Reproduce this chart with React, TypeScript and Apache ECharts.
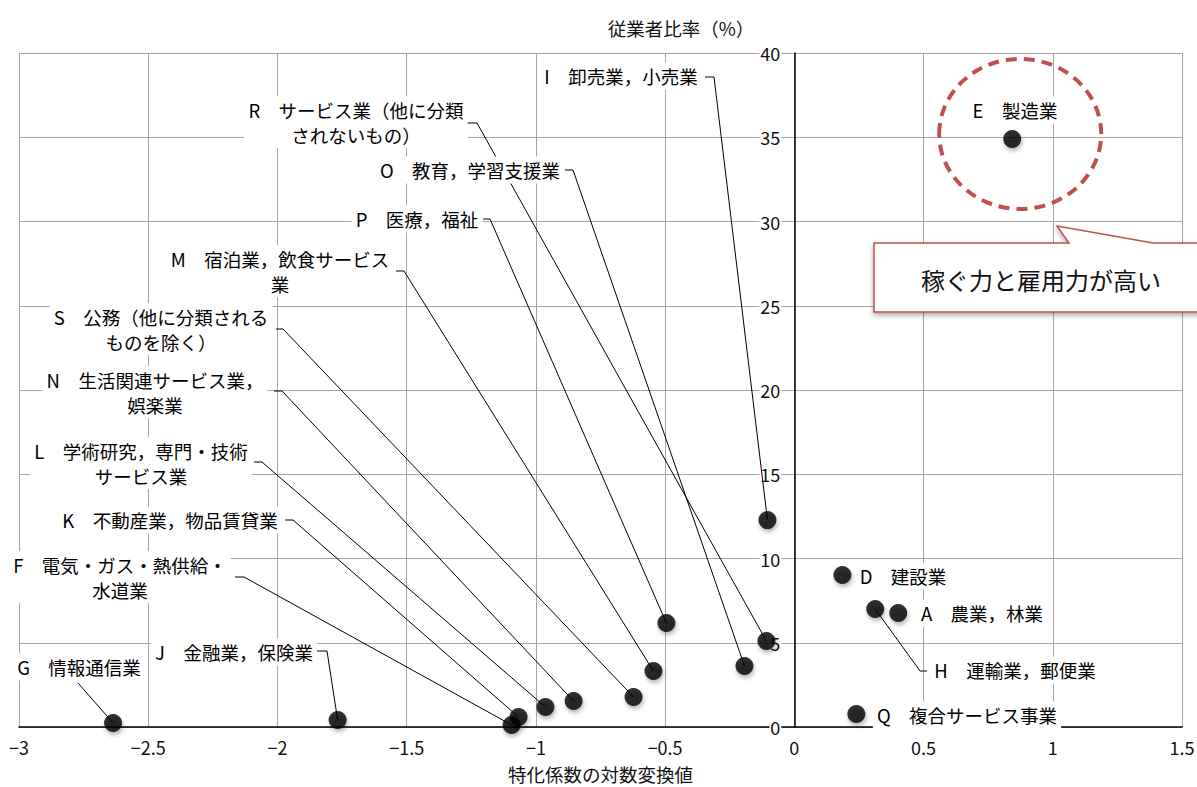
import React, { useEffect, useRef } from "react";
import * as echarts from "echarts";

// ---- data ----
const labelTexts = [
  "E　製造業",
  "I　卸売業，小売業",
  "R　サービス業（他に分類\nされないもの）",
  "O　教育，学習支援業",
  "P　医療，福祉",
  "M　宿泊業，飲食サービス\n業",
  "S　公務（他に分類される\nものを除く）",
  "N　生活関連サービス業，\n娯楽業",
  "L　学術研究，専門・技術\nサービス業",
  "K　不動産業，物品賃貸業",
  "F　電気・ガス・熱供給・\n水道業",
  "J　金融業，保険業",
  "G　情報通信業",
  "D　建設業",
  "H　運輸業，郵便業",
  "A　農業，林業",
  "Q　複合サービス事業",
];
const specializationLog = [
  0.843, -0.104, -0.108, -0.193, -0.495, -0.545, -0.622, -0.854, -0.963,
  -1.067, -1.094, -1.767, -2.636, 0.186, 0.313, 0.402, 0.24,
];
const employeeShare = [
  34.9, 12.28, 5.1, 3.62, 6.17, 3.32, 1.78, 1.54, 1.19, 0.59, 0.12, 0.42,
  0.24, 9.02, 7.0, 6.77, 0.77,
];
const xTickMin = -3;
const xTickMax = 1.5;
const xTickStep = 0.5;
const yTickMin = 0;
const yTickMax = 40;
const yTickStep = 5;
const xAxisTitle = "特化係数の対数変換値";
const yAxisTitle = "従業者比率（%）";
const calloutText = "稼ぐ力と雇用力が高い";

// ---- label layout (pixel positions of label centres and leader elbows) ----
type Lay = { cx: number; cy: number; line: number[][] | null };
const labelLayout: Lay[] = [
  { cx: 1015, cy: 110, line: null },
  { cx: 621, cy: 76, line: [[705, 77], [714, 77]] },
  { cx: 356, cy: 122, line: [[467, 123], [477, 123]] },
  { cx: 470, cy: 170, line: [[565, 170], [573, 170]] },
  { cx: 417, cy: 219, line: [[483, 219], [490, 219]] },
  { cx: 280, cy: 271, line: [[396, 271], [404, 271]] },
  { cx: 161, cy: 329, line: [[276, 329], [283, 329]] },
  { cx: 155, cy: 392, line: [[274, 391], [282, 391]] },
  { cx: 141, cy: 463, line: [[254, 462], [262, 462]] },
  { cx: 170, cy: 520, line: [[285, 520], [293, 520]] },
  { cx: 120, cy: 577, line: [[235, 577], [244, 577]] },
  { cx: 234, cy: 652, line: [[317, 651], [327, 651]] },
  { cx: 79, cy: 667, line: [[78, 683]] },
  { cx: 903, cy: 576, line: null },
  { cx: 1015, cy: 670, line: [[927, 671], [920, 671]] },
  { cx: 982, cy: 613, line: null },
  { cx: 967, cy: 715, line: null },
];

const FONT = '"Noto Sans CJK JP", "Noto Sans", sans-serif';
const RED = "#c0504d";
const GRID = { left: 19, right: 15, top: 53, bottom: 60 };
const WIDTH = 1197;

export default function App() {
  const ref = useRef<HTMLDivElement>(null);
  useEffect(() => {
    if (!ref.current) return;
    const chart = echarts.init(ref.current, null, { renderer: "svg" });
    const points = specializationLog.map((x, i) => [x, employeeShare[i]]);
    const minus = (v: number) => String(v).replace("-", "−");
    const plotW = WIDTH - GRID.left - GRID.right;
    const zeroOffset = -(plotW * (0 - xTickMin)) / (xTickMax - xTickMin);
    chart.setOption({
      animation: false,
      backgroundColor: "#fff",
      grid: { ...GRID, containLabel: false, outerBoundsMode: "none" },
      xAxis: {
        type: "value",
        min: xTickMin,
        max: xTickMax,
        interval: xTickStep,
        name: xAxisTitle,
        nameLocation: "middle",
        nameGap: 38,
        nameTextStyle: { fontFamily: FONT, fontSize: 18.5, color: "#111" },
        axisLine: { show: true, onZero: false, lineStyle: { color: "#000", width: 1.5 } },
        axisTick: { show: false },
        axisLabel: {
          fontFamily: FONT,
          fontSize: 18,
          color: "#111",
          margin: 11,
          formatter: (v: number) => minus(v),
        },
        splitLine: { show: true, lineStyle: { color: "#a6a6a6", width: 1 } },
      },
      yAxis: {
        type: "value",
        min: yTickMin,
        max: yTickMax,
        interval: yTickStep,
        offset: zeroOffset,
        name: yAxisTitle,
        nameLocation: "end",
        nameGap: 16,
        nameTextStyle: {
          fontFamily: FONT,
          fontSize: 18.5,
          color: "#111",
          align: "right",
          padding: [0, 40, 0, 0],
        },
        axisLine: { show: true, onZero: false, lineStyle: { color: "#000", width: 1.5 } },
        axisTick: { show: false },
        axisLabel: {
          fontFamily: FONT,
          fontSize: 18,
          color: "#111",
          margin: 13,
          backgroundColor: "#fff",
          padding: [0, 1],
        },
        splitLine: { show: true, lineStyle: { color: "#a6a6a6", width: 1 } },
      },
      series: [
        {
          type: "custom",
          z: 2,
          data: points,
          renderItem: (params: any, api: any) => {
            const i = params.dataIndex;
            const lay = labelLayout[i];
            if (!lay.line) return { type: "group", children: [] };
            const p = api.coord([api.value(0), api.value(1)]);
            return {
              type: "polyline",
              shape: { points: [...lay.line, p] },
              style: { stroke: "#000", lineWidth: 1, fill: null },
            };
          },
        },
        {
          type: "custom",
          z: 3,
          data: points,
          renderItem: (params: any) => {
            const i = params.dataIndex;
            const lay = labelLayout[i];
            return {
              type: "text",
              x: lay.cx,
              y: lay.cy,
              style: {
                text: labelTexts[i],
                align: "center",
                verticalAlign: "middle",
                fontSize: 18.5,
                fontFamily: FONT,
                fill: "#000",
                lineHeight: 25,
                backgroundColor: "#fff",
                padding: [1, 4],
              },
            };
          },
        },
        {
          type: "scatter",
          z: 5,
          data: points,
          symbol: "circle",
          symbolSize: 18,
          itemStyle: {
            color: "#000",
            shadowBlur: 4,
            shadowOffsetX: 1,
            shadowOffsetY: 3,
            shadowColor: "rgba(0,0,0,0.35)",
          },
        },
      ],
    });

    const e = chart.convertToPixel({ gridIndex: 0 }, points[0]) as number[];
    chart.setOption({
      graphic: [
        {
          type: "ellipse",
          z: 10,
          shape: { cx: e[0] + 8, cy: e[1] - 5, rx: 81, ry: 75 },
          style: { fill: null, stroke: RED, lineWidth: 4, lineDash: [11, 7] },
        },
        {
          type: "polygon",
          z: 10,
          shape: {
            points: [
              [874, 243],
              [1069, 243],
              [1057, 226],
              [1153, 243],
              [1215, 243],
              [1215, 312],
              [874, 312],
            ],
          },
          style: {
            fill: "#fff",
            stroke: RED,
            lineWidth: 1.5,
            shadowBlur: 5,
            shadowOffsetY: 3,
            shadowColor: "rgba(0,0,0,0.3)",
          },
        },
        {
          type: "text",
          z: 11,
          x: 1041,
          y: 279,
          style: {
            text: calloutText,
            align: "center",
            verticalAlign: "middle",
            fontSize: 24,
            fontFamily: FONT,
            fill: "#111",
          },
        },
      ],
    });
    return () => chart.dispose();
  }, []);
  return (
    <div
      ref={ref}
      style={{ position: "fixed", left: 0, top: 0, width: WIDTH, height: 787 }}
    />
  );
}
